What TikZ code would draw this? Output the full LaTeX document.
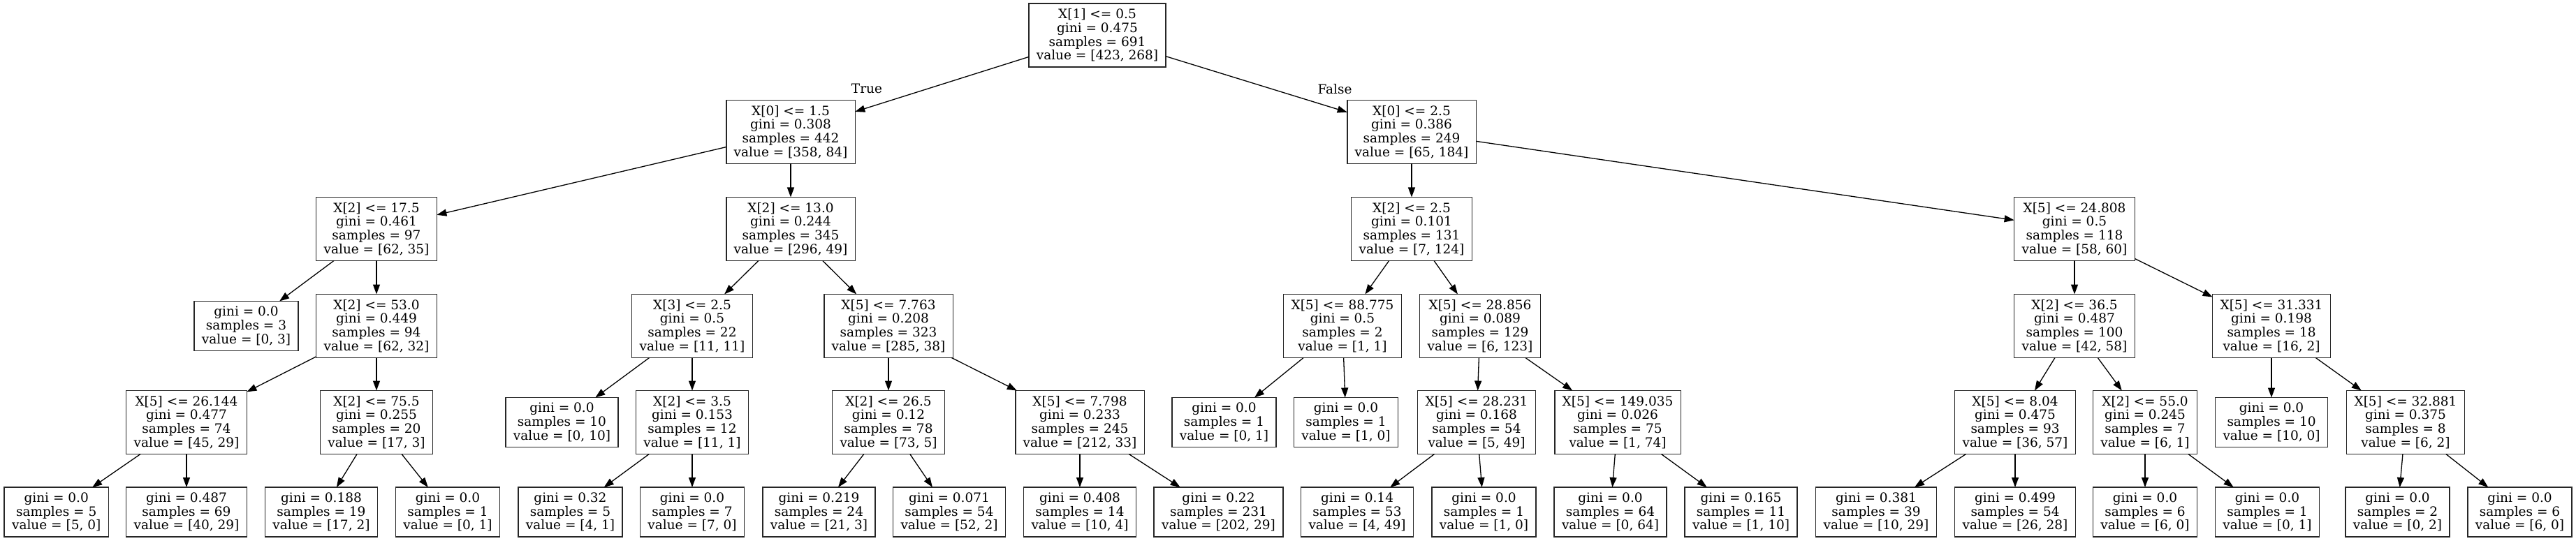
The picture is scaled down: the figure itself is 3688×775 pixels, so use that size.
\documentclass[tikz,border=0pt]{standalone}
\usepackage{fontspec}
\setmainfont{DejaVu Serif}
\usetikzlibrary{arrows.meta}
\tikzset{
  dec/.style={draw=black!85, line width=1.6pt, rectangle, minimum height=91pt, inner xsep=11pt, inner ysep=0pt, outer sep=0pt, align=center, font=\fontsize{18.5}{19.7}\selectfont},
  leaf/.style={dec, minimum height=71pt},
  lbl/.style={inner sep=0pt, font=\fontsize{18.5}{19.7}\selectfont},
  conn/.style={-{Triangle[length=14pt,width=10pt]}, line width=1.3pt, black}
}
\begin{document}
\begin{tikzpicture}[x=1pt,y=-1pt]
\useasboundingbox (0,0) rectangle (3688,775);
% level 0
\node[dec] (nR) at (1571,50.5) {X[1] <= 0.5\\gini = 0.475\\samples = 691\\value = [423, 268]};
% level 1
\node[dec] (nA) at (1132,189) {X[0] <= 1.5\\gini = 0.308\\samples = 442\\value = [358, 84]};
\node[dec] (nL) at (2021,189) {X[0] <= 2.5\\gini = 0.386\\samples = 249\\value = [65, 184]};
% level 2
\node[dec] (nB) at (539,328) {X[2] <= 17.5\\gini = 0.461\\samples = 97\\value = [62, 35]};
\node[dec] (nF) at (1132,328) {X[2] <= 13.0\\gini = 0.244\\samples = 345\\value = [296, 49]};
\node[dec] (nM) at (2021,328) {X[2] <= 2.5\\gini = 0.101\\samples = 131\\value = [7, 124]};
\node[dec] (nS) at (2970,328) {X[5] <= 24.808\\gini = 0.5\\samples = 118\\value = [58, 60]};
% level 3
\node[leaf] (nB1) at (352.5,467) {gini = 0.0\\samples = 3\\value = [0, 3]};
\node[dec] (nC) at (539,467) {X[2] <= 53.0\\gini = 0.449\\samples = 94\\value = [62, 32]};
\node[dec] (nG) at (991,467) {X[3] <= 2.5\\gini = 0.5\\samples = 22\\value = [11, 11]};
\node[dec] (nI) at (1272,467) {X[5] <= 7.763\\gini = 0.208\\samples = 323\\value = [285, 38]};
\node[dec] (nN) at (1922,467) {X[5] <= 88.775\\gini = 0.5\\samples = 2\\value = [1, 1]};
\node[dec] (nO) at (2119,467) {X[5] <= 28.856\\gini = 0.089\\samples = 129\\value = [6, 123]};
\node[dec] (nT) at (2970,467) {X[2] <= 36.5\\gini = 0.487\\samples = 100\\value = [42, 58]};
\node[dec] (nW) at (3252,467) {X[5] <= 31.331\\gini = 0.198\\samples = 18\\value = [16, 2]};
% level 4
\node[dec] (nD) at (267,605) {X[5] <= 26.144\\gini = 0.477\\samples = 74\\value = [45, 29]};
\node[dec] (nE) at (539,605) {X[2] <= 75.5\\gini = 0.255\\samples = 20\\value = [17, 3]};
\node[leaf] (nG1) at (804.5,605) {gini = 0.0\\samples = 10\\value = [0, 10]};
\node[dec] (nH) at (991,605) {X[2] <= 3.5\\gini = 0.153\\samples = 12\\value = [11, 1]};
\node[dec] (nJ) at (1272,605) {X[2] <= 26.5\\gini = 0.12\\samples = 78\\value = [73, 5]};
\node[dec] (nK) at (1546,605) {X[5] <= 7.798\\gini = 0.233\\samples = 245\\value = [212, 33]};
\node[leaf] (nN1) at (1752.5,605) {gini = 0.0\\samples = 1\\value = [0, 1]};
\node[leaf] (nN2) at (1927,605) {gini = 0.0\\samples = 1\\value = [1, 0]};
\node[dec] (nP) at (2114,605) {X[5] <= 28.231\\gini = 0.168\\samples = 54\\value = [5, 49]};
\node[dec] (nQ) at (2316,605) {X[5] <= 149.035\\gini = 0.026\\samples = 75\\value = [1, 74]};
\node[dec] (nU) at (2885,605) {X[5] <= 8.04\\gini = 0.475\\samples = 93\\value = [36, 57]};
\node[dec] (nV) at (3071,605) {X[2] <= 55.0\\gini = 0.245\\samples = 7\\value = [6, 1]};
\node[leaf] (nW1) at (3252,605) {gini = 0.0\\samples = 10\\value = [10, 0]};
\node[dec] (nX) at (3444,605) {X[5] <= 32.881\\gini = 0.375\\samples = 8\\value = [6, 2]};
% level 5
\node[leaf] (nD1) at (80.7,733.5) {gini = 0.0\\samples = 5\\value = [5, 0]};
\node[leaf] (nD2) at (267,733.5) {gini = 0.487\\samples = 69\\value = [40, 29]};
\node[leaf] (nE1) at (460,733.5) {gini = 0.188\\samples = 19\\value = [17, 2]};
\node[leaf] (nE2) at (641,733.5) {gini = 0.0\\samples = 1\\value = [0, 1]};
\node[leaf] (nH1) at (816.5,733.5) {gini = 0.32\\samples = 5\\value = [4, 1]};
\node[leaf] (nH2) at (991,733.5) {gini = 0.0\\samples = 7\\value = [7, 0]};
\node[leaf] (nJ1) at (1172.5,733.5) {gini = 0.219\\samples = 24\\value = [21, 3]};
\node[leaf] (nJ2) at (1359,733.5) {gini = 0.071\\samples = 54\\value = [52, 2]};
\node[leaf] (nK1) at (1546,733.5) {gini = 0.408\\samples = 14\\value = [10, 4]};
\node[leaf] (nK2) at (1744.5,733.5) {gini = 0.22\\samples = 231\\value = [202, 29]};
\node[leaf] (nP1) at (1943,733.5) {gini = 0.14\\samples = 53\\value = [4, 49]};
\node[leaf] (nP2) at (2124.5,733.5) {gini = 0.0\\samples = 1\\value = [1, 0]};
\node[leaf] (nQ1) at (2305.5,733.5) {gini = 0.0\\samples = 64\\value = [0, 64]};
\node[leaf] (nQ2) at (2492.5,733.5) {gini = 0.165\\samples = 11\\value = [1, 10]};
\node[leaf] (nU1) at (2686,733.5) {gini = 0.381\\samples = 39\\value = [10, 29]};
\node[leaf] (nU2) at (2885,733.5) {gini = 0.499\\samples = 54\\value = [26, 28]};
\node[leaf] (nV1) at (3071,733.5) {gini = 0.0\\samples = 6\\value = [6, 0]};
\node[leaf] (nV2) at (3246,733.5) {gini = 0.0\\samples = 1\\value = [0, 1]};
\node[leaf] (nX1) at (3432.5,733.5) {gini = 0.0\\samples = 2\\value = [0, 2]};
\node[leaf] (nX2) at (3607.5,733.5) {gini = 0.0\\samples = 6\\value = [6, 0]};
% edge labels
\node[lbl] (tTrue) at (1241,127) {True};
\node[lbl] (tFalse) at (1911,128) {False};
% connectors
\foreach \a/\b in {nR/nA, nR/nL, nA/nB, nA/nF, nB/nB1, nB/nC, nC/nD, nC/nE, nD/nD1, nD/nD2, nE/nE1, nE/nE2, nF/nG, nF/nI, nG/nG1, nG/nH, nH/nH1, nH/nH2, nI/nJ, nI/nK, nJ/nJ1, nJ/nJ2, nK/nK1, nK/nK2, nL/nM, nL/nS, nM/nN, nM/nO, nN/nN1, nN/nN2, nO/nP, nO/nQ, nP/nP1, nP/nP2, nQ/nQ1, nQ/nQ2, nS/nT, nS/nW, nT/nU, nT/nV, nU/nU1, nU/nU2, nV/nV1, nV/nV2, nW/nW1, nW/nX, nX/nX1, nX/nX2}
  \draw[conn] (\a) -- (\b);
\end{tikzpicture}
\end{document}
